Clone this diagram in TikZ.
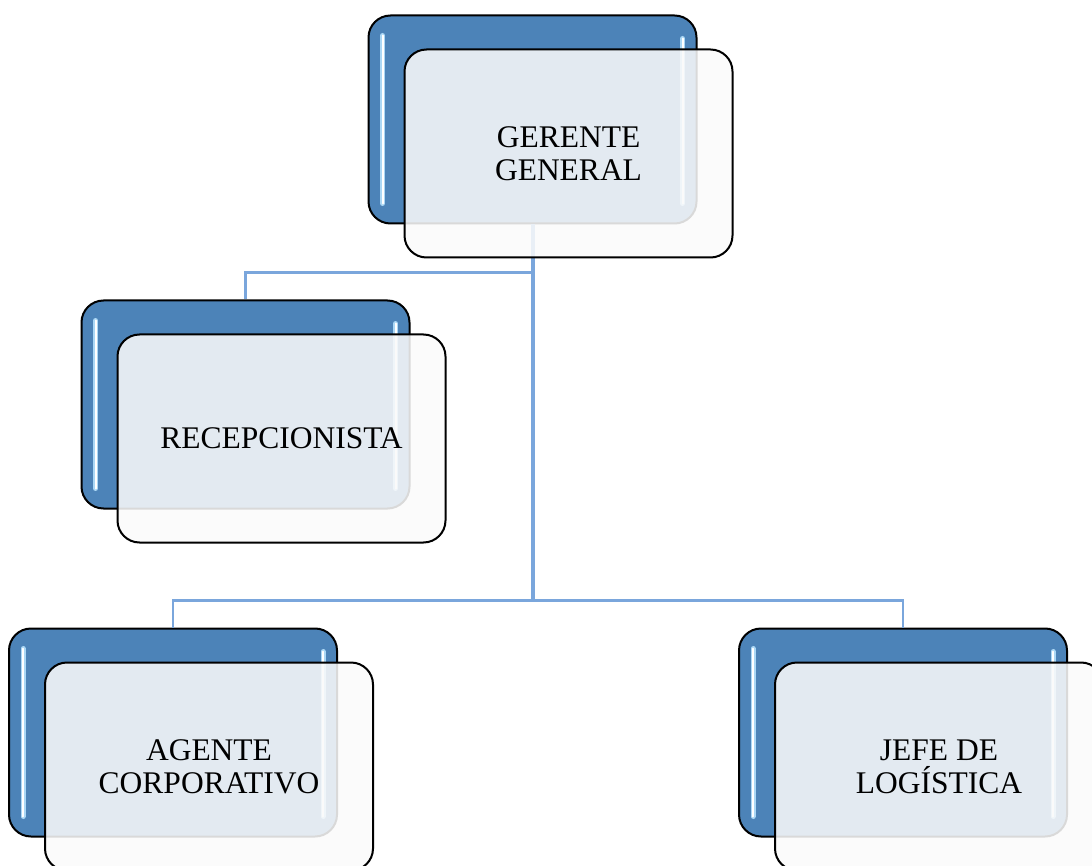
\documentclass[tikz,border=0pt]{standalone}
\usepackage{fontspec}
\setmainfont{Liberation Serif}
\usetikzlibrary{positioning}

\definecolor{backblue}{RGB}{76,131,184}
\definecolor{linkblue}{RGB}{122,166,220}
\definecolor{gloss}{RGB}{170,215,245}

\begin{document}
\begin{tikzpicture}[
  x=1pt, y=-1pt,
  back box/.style={
    draw=black, line width=2pt, fill=backblue,
    rounded corners=22pt,
    minimum width=328pt, minimum height=208pt,
    inner sep=0pt,
    path picture={
      \foreach \w/\c in {5pt/gloss, 2pt/white} {
        \draw[\c, line width=\w, line cap=round]
          ([shift={(14pt,-20pt)}]path picture bounding box.north west) --
          ([shift={(14pt,20pt)}]path picture bounding box.south west);
        \draw[\c, line width=\w, line cap=round]
          ([shift={(-14pt,-23pt)}]path picture bounding box.north east) --
          ([shift={(-14pt,20pt)}]path picture bounding box.south east);
      }
    },
  },
  front box/.style={
    draw=black, line width=2pt,
    fill=white!98!black, fill opacity=0.87, text opacity=1,
    rounded corners=22pt,
    minimum width=328pt, minimum height=208pt,
    align=center,
    font=\fontsize{31.5}{33}\selectfont,
  },
  trunk/.style={linkblue, line width=4pt},
  branch/.style={linkblue, line width=2.5pt},
]
\useasboundingbox (0,0) rectangle (1092,866);

% back boxes
\node[back box] (gerente back) at (532.5,119.5) {};
\node[back box] (recepcionista back) at (245.5,404.5) {};
\node[back box] (agente back) at (173,732.5) {};
\node[back box] (jefe back) at (903,732.5) {};

% connectors
\coordinate (knot 1) at ([yshift=-48pt]gerente back.south);
\coordinate (knot 2) at ([yshift=-376pt]gerente back.south);
\draw[trunk] (gerente back.south) -- (knot 2);
\draw[branch] (knot 1) -| (recepcionista back.north);
\draw[branch] (knot 2) -| (agente back.north);
\draw[branch] (knot 2) -| (jefe back.north);

% front boxes
\node[front box, at={([shift={(36pt,-34pt)}]gerente back.center)}]
  (gerente front) {GERENTE\\GENERAL};
\node[front box, at={([shift={(36pt,-34pt)}]recepcionista back.center)}]
  (recepcionista front) {RECEPCIONISTA};
\node[front box, at={([shift={(36pt,-34pt)}]agente back.center)}]
  (agente front) {AGENTE\\CORPORATIVO};
\node[front box, at={([shift={(36pt,-34pt)}]jefe back.center)}]
  (jefe front) {JEFE DE\\LOGÍSTICA};
\end{tikzpicture}
\end{document}
